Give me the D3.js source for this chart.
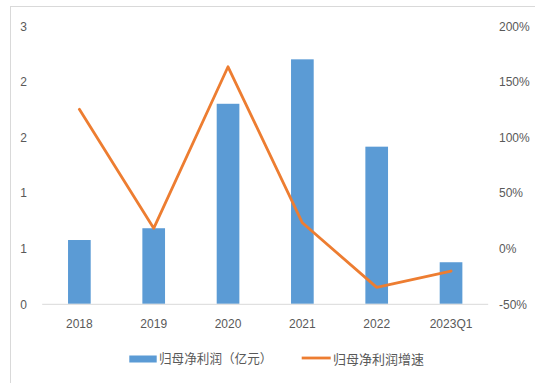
<!DOCTYPE html>
<html><head><meta charset="utf-8">
<script src="https://cdn.jsdelivr.net/npm/d3@7"></script>
<style>
html,body{margin:0;padding:0;background:#fff;}
svg text{font-family:"Liberation Sans",Arial,sans-serif;fill:#595959;}
</style></head>
<body>
<svg id="c" width="535" height="383"></svg>
<script>
const categories = ["2018","2019","2020","2021","2022","2023Q1"];
const profit = [0.574, 0.68, 1.80, 2.20, 1.414, 0.374];
const growth = [1.25, 0.179, 1.633, 0.229, -0.352, -0.205];
const leftTicks = [0, 0.5, 1, 1.5, 2, 2.5];
const leftTickLabels = ["0","1","1","2","2","3"];
const rightTicks = [-0.5, 0, 0.5, 1, 1.5, 2];
const seriesNames = ["归母净利润（亿元）", "归母净利润增速"];

const svg = d3.select("#c");
// chart border
svg.append("rect").attr("x",10.5).attr("y",6.5).attr("width",540).attr("height",400)
  .attr("fill","none").attr("stroke","#d9d9d9").attr("stroke-width",1);

const x0 = 42.2, x1 = 488.2, yTop = 26, yBot = 303.8;
const x = d3.scaleBand().domain(categories).range([x0, x1]).paddingInner(0).paddingOuter(0);
const yL = d3.scaleLinear().domain([0, 2.5]).range([yBot, yTop]);
const yR = d3.scaleLinear().domain([-0.5, 2]).range([yBot, yTop]);
const barW = x.bandwidth() * 0.305;

// left axis
const axL = d3.axisLeft(yL).tickValues(leftTicks).tickSize(0).tickPadding(0)
  .tickFormat((d,i)=>leftTickLabels[i]);
const gL = svg.append("g").attr("transform","translate(27,0)").call(axL);
gL.select(".domain").remove();
gL.selectAll("text").attr("font-size",12).attr("dy","0.35em").style("font-family","Liberation Sans, Arial, sans-serif").attr("fill","#595959");

// right axis
const axR = d3.axisRight(yR).tickValues(rightTicks).tickSize(0).tickPadding(0)
  .tickFormat(d=>Math.round(d*100)+"%");
const gR = svg.append("g").attr("transform","translate(499,0)").call(axR);
gR.select(".domain").remove();
gR.selectAll("text").attr("font-size",12).attr("dy","0.35em").attr("fill","#595959");

// bars
svg.append("g").selectAll("rect").data(categories).join("rect")
  .attr("x",(d)=>x(d)+x.bandwidth()/2-barW/2)
  .attr("y",(d,i)=>yL(profit[i]))
  .attr("width",barW)
  .attr("height",(d,i)=>yL(0)-yL(profit[i]))
  .attr("fill","#5b9bd5");

// x axis baseline
svg.append("line").attr("x1",x0).attr("x2",x1).attr("y1",yBot+0.5).attr("y2",yBot+0.5)
  .attr("stroke","#d9d9d9").attr("stroke-width",1);

// x labels
const axB = d3.axisBottom(x).tickSize(0).tickPadding(0);
const gB = svg.append("g").attr("transform",`translate(0,${yBot})`).call(axB);
gB.select(".domain").remove();
gB.selectAll("text").attr("font-size",12).attr("dy","0").attr("y",24).attr("fill","#595959");

// line
const line = d3.line().x((d,i)=>x(categories[i])+x.bandwidth()/2).y(d=>yR(d));
svg.append("path").datum(growth).attr("d",line).attr("fill","none")
  .attr("stroke","#ed7d31").attr("stroke-width",2.8).attr("stroke-linejoin","round").attr("stroke-linecap","round");

// legend
const lg = svg.append("g");
lg.append("rect").attr("x",129.3).attr("y",355.5).attr("width",27.4).attr("height",7).attr("fill","#5b9bd5");
lg.append("text").attr("x",159).attr("y",359).attr("dy","0.35em").attr("font-size",12.6)
  .style("font-family","'Noto Sans CJK SC',sans-serif").text(seriesNames[0]);
lg.append("line").attr("x1",301.7).attr("x2",330.7).attr("y1",358).attr("y2",358)
  .attr("stroke","#ed7d31").attr("stroke-width",2.8);
lg.append("text").attr("x",333).attr("y",359).attr("dy","0.35em").attr("font-size",13)
  .style("font-family","'Noto Sans CJK SC',sans-serif").text(seriesNames[1]);
</script>
</body></html>
